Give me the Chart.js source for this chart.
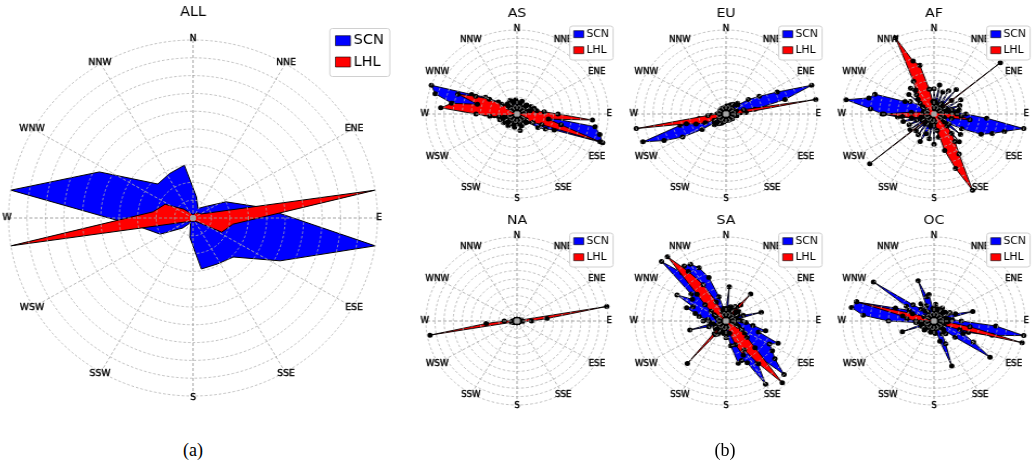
<!DOCTYPE html>
<html>
<head>
<meta charset="utf-8">
<script src="https://cdn.jsdelivr.net/npm/chart.js@4.4.1/dist/chart.umd.min.js"></script>
<style>
  html, body { margin: 0; padding: 0; background: #fff; }
  body { width: 1032px; height: 468px; position: relative; overflow: hidden; }
  canvas { position: absolute; }
  .cap { position: absolute; font-family: "Liberation Serif", "DejaVu Serif", serif; font-size: 18px;
         color: #000; transform: translate(-50%, -50%); white-space: nowrap; }
</style>
</head>
<body>
<canvas id="cAll"></canvas>
<canvas id="cAS"></canvas>
<canvas id="cEU"></canvas>
<canvas id="cAF"></canvas>
<canvas id="cNA"></canvas>
<canvas id="cSA"></canvas>
<canvas id="cOC"></canvas>
<div class="cap" style="left:193px; top:450px">(a)</div>
<div class="cap" style="left:725px; top:450px">(b)</div>
<script>
// Compass directions shown around every rose
const directionLabels = ['N', 'NNE', 'ENE', 'E', 'ESE', 'SSE', 'S', 'SSW', 'WSW', 'W', 'WNW', 'NNW'];
const directionAngles = [0, 30, 60, 90, 120, 150, 180, 210, 240, 270, 300, 330];
const seriesNames = ['SCN', 'LHL'];

// ALL: 20 direction bins (degrees clockwise from north), values relative to the outer ring
const allAngles = [9, 27, 45, 63, 81, 99, 117, 135, 153, 171, 189, 207, 225, 243, 261, 279, 297, 315, 333, 351];
const allScn = [0.12, 0.06, 0.09, 0.20, 0.38, 1.00, 0.53, 0.31, 0.29, 0.29, 0.11, 0.03, 0.08, 0.20, 0.30, 1.00, 0.57, 0.27, 0.28, 0.30];
const allLhl = [0.02, 0.03, 0.04, 0.05, 1.00, 0.22, 0.175, 0.03, 0.02, 0.02, 0.02, 0.02, 0.03, 0.05, 1.00, 0.22, 0.17, 0.07, 0.03, 0.02];

// Regional roses: 72 bins of 5 degrees (0, 5, ..., 355)
const regionAngles = Array.from({ length: 72 }, (_, i) => i * 5);

const asScn = [
  .14, .06, .12, .05, .16, .07, .13, .05, .10, .15, .06, .12,
  .18, .08, .20, .12, .18, .20, .15, .25, .87, .94, 1.0, .45,
  .36, .28, .15, .08, .14, .06, .12, .05, .15, .08, .20, .07,
  .12, .06, .16, .08, .13, .05, .12, .17, .07, .14, .06, .18,
  .10, .15, .20, .12, .18, .25, .35, .58, .72, .93, 1.0, .55,
  .40, .25, .15, .10, .16, .07, .12, .18, .06, .15, .08, .17];
const asLhl = [
  .05, .08, .04, .07, .05, .09, .04, .06, .08, .05, .07, .10,
  .06, .12, .10, .15, .22, .30, .45, .83, .35, .50, .97, .30,
  .20, .12, .08, .05, .07, .04, .06, .08, .05, .07, .04, .06,
  .05, .08, .04, .06, .05, .07, .04, .06, .08, .05, .07, .05,
  .08, .10, .12, .15, .20, .30, .45, .84, .73, .45, .69, .50,
  .35, .20, .12, .08, .06, .05, .07, .04, .06, .05, .07, .04];

const euScn = [
  .06, .10, .05, .08, .06, .12, .08, .14, .10, .18, .16, .30,
  .42, .62, 1.0, .67, .32, .16, .10, .06, .12, .05, .08, .04,
  .07, .05, .09, .04, .07, .05, .08, .04, .06, .08, .04, .07,
  .05, .08, .06, .10, .07, .12, .08, .14, .10, .18, .16, .32,
  .55, .75, .97, .52, .30, .16, .10, .06, .08, .05, .07, .04,
  .07, .05, .08, .04, .06, .08, .04, .07, .05, .08, .04, .06];
const euLhl = [
  .04, .06, .03, .05, .07, .04, .06, .03, .05, .07, .04, .06,
  .08, .10, .12, .20, 1.0, .22, .10, .05, .06, .03, .05, .04,
  .06, .03, .05, .04, .06, .03, .05, .04, .06, .03, .05, .04,
  .06, .03, .05, .04, .06, .03, .05, .04, .07, .05, .08, .10,
  .15, .25, .35, .45, 1.0, .20, .08, .05, .04, .06, .03, .05,
  .04, .06, .03, .05, .04, .06, .03, .05, .04, .06, .03, .05];

const afScn = [
  .30, .15, .35, .12, .28, .10, .32, .15, .38, .12, .25, .10,
  .34, .15, .30, .20, .28, .25, .35, .58, 1.0, .80, .68, .57,
  .35, .20, .38, .15, .43, .12, .30, .10, .35, .15, .28, .10,
  .36, .12, .30, .15, .25, .36, .12, .30, .15, .28, .10, .32,
  .15, .30, .20, .35, .25, .40, .57, .70, .98, .74, .69, .35,
  .30, .15, .36, .12, .40, .15, .35, .20, .39, .12, .30, .10];
const afLhl = [
  .10, .06, .12, .08, .10, .06, .12, .08, .10, .06, .95, .06,
  .10, .08, .12, .10, .15, .20, .25, .30, .40, .20, .12, .10,
  .08, .12, .15, .20, .30, .40, .55, 1.0, .69, .45, .20, .10,
  .08, .12, .06, .10, .08, .12, .06, .10, .08, .06, .92, .06,
  .10, .08, .12, .15, .25, .35, .55, .25, .12, .10, .08, .12,
  .10, .15, .20, .25, .30, .35, .45, 1.0, .67, .60, .30, .15];

const naScn = [
  .01, .02, .01, .02, .01, .02, .01, .02, .01, .02, .01, .02,
  .01, .02, .02, .03, .04, .03, .03, .04, .02, .02, .01, .02,
  .01, .02, .01, .02, .01, .02, .01, .02, .01, .02, .01, .02,
  .01, .02, .01, .02, .01, .02, .01, .02, .01, .02, .01, .02,
  .02, .03, .04, .03, .04, .03, .02, .02, .01, .02, .01, .02,
  .01, .02, .01, .02, .01, .02, .01, .02, .01, .02, .01, .02];
const naLhl = [
  .01, .02, .01, .02, .01, .02, .01, .02, .01, .02, .01, .02,
  .02, .02, .03, .05, 1.0, .33, .16, .06, .03, .02, .01, .02,
  .01, .02, .01, .02, .01, .02, .01, .02, .01, .02, .01, .02,
  .01, .02, .01, .02, .01, .02, .01, .02, .01, .02, .01, .02,
  .02, .03, .04, .06, .97, .34, .14, .05, .02, .01, .02, .01,
  .02, .01, .02, .01, .02, .01, .02, .01, .02, .01, .02, .01];

const saScn = [
  .15, .41, .10, .18, .08, .14, .20, .10, .25, .12, .18, .10,
  .15, .12, .20, .40, .12, .15, .18, .22, .30, .45, .38, .63,
  .55, .62, .70, .90, .55, .60, .87, .55, .50, .52, .30, .15,
  .20, .10, .15, .08, .14, .10, .18, .12, .20, .10, .15, .08,
  .14, .12, .20, .41, .15, .18, .25, .20, .30, .35, .46, .40,
  .62, .45, .50, 1.0, .75, .80, .78, .70, .55, .30, .15, .10];
const saLhl = [
  .06, .10, .05, .08, .12, .06, .10, .20, .42, .15, .06, .08,
  .05, .07, .05, .08, .06, .05, .07, .05, .08, .10, .12, .15,
  .20, .25, .30, .45, .96, .62, .40, .45, .30, .15, .08, .06,
  .05, .07, .05, .08, .06, .10, .15, .20, .66, .12, .06, .05,
  .07, .05, .08, .06, .05, .07, .05, .08, .06, .08, .10, .12,
  .15, .20, .30, .45, 1.0, .72, .50, .25, .12, .08, .06, .05];

const ocScn = [
  .12, .20, .08, .15, .06, .12, .18, .08, .14, .10, .16, .08,
  .20, .12, .25, .44, .15, .20, .30, .68, 1.0, .66, .40, .35,
  .50, .75, .30, .15, .20, .10, .18, .30, .57, .25, .10, .15,
  .08, .12, .06, .14, .08, .12, .06, .10, .08, .15, .06, .10,
  .08, .15, .37, .12, .15, .20, .50, .78, .92, .88, .45, .30,
  .35, .81, .30, .20, .15, .25, .12, .20, .51, .30, .32, .15];
const ocLhl = [
  .05, .08, .04, .06, .03, .07, .05, .04, .06, .03, .05, .04,
  .07, .05, .08, .10, .06, .08, .10, .15, .40, 1.0, .30, .12,
  .08, .10, .06, .05, .07, .04, .06, .05, .08, .04, .06, .03,
  .05, .04, .06, .03, .05, .04, .06, .03, .05, .04, .06, .05,
  .08, .10, .12, .08, .10, .15, .20, .30, .35, .88, .25, .12,
  .10, .06, .08, .05, .07, .04, .06, .05, .07, .04, .06, .04];

// Style presets for the large rose and the six small ones
const LARGE = {
  R: 178, W: 386, H: 412, centerY: 218, sx: 1.036,
  titleSize: 14, titlePad: { top: 4, bottom: 19.2 },
  labelSize: 9, labelGap: 1.5, pointRadius: 0, centreRadius: 3, lineWidth: 1,
  legend: { font: 14, bx: 132, by: -189.5, bw: 58, bh: 48, px: 137.5, pw: 14.5, ph: 10,
            py: [-182.3, -161], tx: 155, ty: [-177.3, -156] }
};
const SMALL = {
  R: 84, W: 200, H: 214, centerY: 114, sx: 1.085,
  titleSize: 13, titlePad: { top: 5.5, bottom: 8.9 },
  labelSize: 8, labelGap: 1, pointRadius: 2.5, centreRadius: 2.5, lineWidth: 0.9,
  legend: { font: 10, bx: 48.6, by: -88, bw: 40, bh: 34, px: 52.3, pw: 9.2, ph: 7,
            py: [-83.3, -67.3], tx: 64, ty: [-79.7, -64] }
};

const panels = [
  { id: 'cAll', title: 'ALL', cx: 193, cy: 218, style: LARGE, angles: allAngles, scn: allScn, lhl: allLhl },
  { id: 'cAS', title: 'AS', cx: 517, cy: 114, style: SMALL, angles: regionAngles, scn: asScn, lhl: asLhl },
  { id: 'cEU', title: 'EU', cx: 726, cy: 114, style: SMALL, angles: regionAngles, scn: euScn, lhl: euLhl },
  { id: 'cAF', title: 'AF', cx: 934, cy: 114, style: SMALL, angles: regionAngles, scn: afScn, lhl: afLhl },
  { id: 'cNA', title: 'NA', cx: 517, cy: 321, style: SMALL, angles: regionAngles, scn: naScn, lhl: naLhl },
  { id: 'cSA', title: 'SA', cx: 726, cy: 321, style: SMALL, angles: regionAngles, scn: saScn, lhl: saLhl },
  { id: 'cOC', title: 'OC', cx: 934, cy: 321, style: SMALL, angles: regionAngles, scn: ocScn, lhl: ocLhl }
];

// One label per degree; only the bins that carry a value are filled in
const degreeLabels = Array.from({ length: 360 }, (_, d) => String(d));
function toSeries(angles, values) {
  const out = new Array(360).fill(null);
  angles.forEach((a, i) => { out[a] = values[i]; });
  return out;
}

// Compass names and the boxed legend, drawn after the rose itself
const roseDecor = {
  id: 'roseDecor',
  afterDraw(chart, args, opts) {
    const s = chart.scales.r;
    const ctx = chart.ctx;
    ctx.save();
    ctx.fillStyle = '#000';
    ctx.strokeStyle = '#000';
    ctx.lineWidth = 0.35;
    ctx.lineJoin = 'round';
    ctx.textAlign = 'center';
    ctx.textBaseline = 'middle';
    ctx.font = opts.labelSize + 'px "DejaVu Sans"';
    directionAngles.forEach((a, i) => {
      const p = s.getPointPosition(a, s.drawingArea + opts.labelGap);
      ctx.fillText(directionLabels[i], p.x, p.y);
      ctx.strokeText(directionLabels[i], p.x, p.y);
    });

    const L = opts.legend;
    const x0 = s.xCenter, y0 = s.yCenter;
    ctx.beginPath();
    ctx.roundRect(x0 + L.bx, y0 + L.by, L.bw, L.bh, 2.5);
    ctx.fillStyle = 'rgba(255,255,255,0.85)';
    ctx.fill();
    ctx.strokeStyle = '#d0d0d0';
    ctx.lineWidth = 1;
    ctx.stroke();
    ctx.textAlign = 'left';
    ctx.font = L.font + 'px "DejaVu Sans"';
    chart.data.datasets.slice(0, 2).forEach((ds, i) => {
      ctx.fillStyle = ds.backgroundColor;
      ctx.fillRect(x0 + L.px, y0 + L.py[i], L.pw, L.ph);
      ctx.strokeStyle = '#000';
      ctx.lineWidth = 0.6;
      ctx.strokeRect(x0 + L.px, y0 + L.py[i], L.pw, L.ph);
      ctx.fillStyle = '#000';
      ctx.fillText(ds.label, x0 + L.tx, y0 + L.ty[i]);
    });
    ctx.restore();
  }
};

function makeRose(p) {
  const st = p.style;
  const canvas = document.getElementById(p.id);
  canvas.width = st.W;
  canvas.height = st.H;
  canvas.style.left = (p.cx - st.W / 2) + 'px';
  canvas.style.top = (p.cy - st.centerY) + 'px';
  canvas.style.transformOrigin = (st.W / 2) + 'px 0px';
  canvas.style.transform = 'scaleX(' + st.sx + ')';

  const side = (st.W - 2 * st.R) / 2;
  const centre = new Array(360).fill(null);
  centre[0] = 0;

  const common = {
    borderColor: '#000', borderWidth: st.lineWidth, fill: 'origin', tension: 0,
    spanGaps: true, clip: false,
    pointRadius: st.pointRadius, pointHoverRadius: st.pointRadius,
    pointBackgroundColor: '#000', pointBorderWidth: 0
  };

  new Chart(canvas, {
    type: 'radar',
    data: {
      labels: degreeLabels,
      datasets: [
        Object.assign({ label: seriesNames[0], data: toSeries(p.angles, p.scn), backgroundColor: '#0000ff', order: 2 }, common),
        Object.assign({ label: seriesNames[1], data: toSeries(p.angles, p.lhl), backgroundColor: '#ff0000', order: 1 }, common),
        { label: '', data: centre, showLine: false, fill: false, clip: false, order: 0,
          pointRadius: st.centreRadius, pointHoverRadius: st.centreRadius,
          pointBackgroundColor: '#a0a0a0', pointBorderWidth: 0 }
      ]
    },
    options: {
      responsive: false,
      animation: false,
      events: [],
      layout: { padding: { left: side, right: side, top: 0, bottom: st.H - st.centerY - st.R } },
      plugins: {
        legend: { display: false },
        tooltip: { enabled: false },
        title: {
          display: true, text: p.title, color: '#000',
          font: { family: 'DejaVu Sans', size: st.titleSize, weight: 'normal', lineHeight: 1.2 },
          padding: st.titlePad
        },
        roseDecor: { labelSize: st.labelSize, labelGap: st.labelGap, legend: st.legend }
      },
      scales: {
        r: {
          min: 0, max: 1, startAngle: 0,
          ticks: { display: false, stepSize: 0.1 },
          pointLabels: { display: false },
          grid: { circular: true, color: '#b0b0b0', lineWidth: 0.8, z: 1, borderDash: [2.5, 2] },
          border: { dash: [2.5, 2] },
          angleLines: {
            display: true,
            color: (c) => (c.index % 90 === 0 ? '#999999' : '#b0b0b0'),
            lineWidth: (c) => (c.index % 30 === 0 ? 0.9 : 0),
            borderDash: [3, 2]
          }
        }
      }
    },
    plugins: [roseDecor]
  });
}

panels.forEach(makeRose);
</script>
</body>
</html>
